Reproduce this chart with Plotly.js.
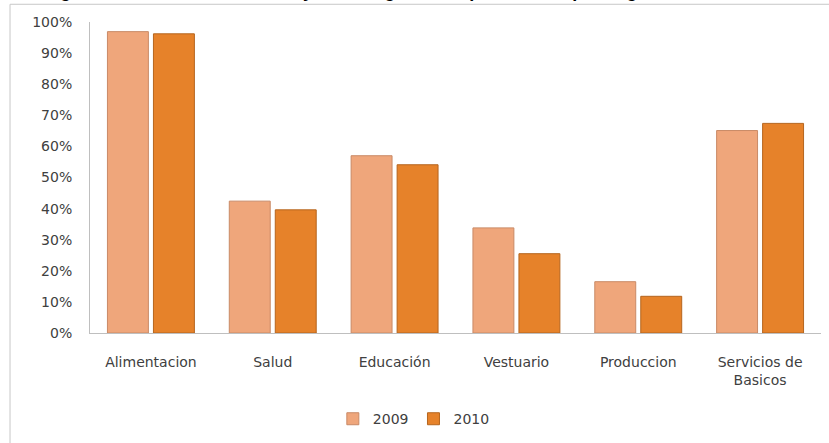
<!DOCTYPE html>
<html>
<head>
<meta charset="utf-8">
<script src="https://cdn.plot.ly/plotly-3.0.1.min.js"></script>
<style>html,body{margin:0;padding:0;background:#fff;}#chart{width:829px;height:443px;}</style>
</head>
<body>
<div id="chart"></div>
<script>
const categories = ["Alimentacion", "Salud", "Educación", "Vestuario", "Produccion", "Servicios de<br>Basicos"];
const values2009 = [96.9, 42.4, 57.0, 33.8, 16.5, 65.1];
const values2010 = [96.2, 39.6, 54.1, 25.5, 11.8, 67.4];
const seriesNames = ["2009", "2010"];
const yTicks = [0, 10, 20, 30, 40, 50, 60, 70, 80, 90, 100];
const yTickLabels = ["0%", "10%", "20%", "30%", "40%", "50%", "60%", "70%", "80%", "90%", "100%"];
const titleText = "Categorías de economía familiar y las categorías de prioridades por el gasto";

const font = "DejaVu Sans, Verdana, sans-serif";
const titleFont = "Liberation Sans, Arial, sans-serif";
const traces = [
  {type: "bar", name: seriesNames[0], x: categories, y: values2009,
   marker: {color: "#EFA67B", line: {color: "#C98A66", width: 1}}},
  {type: "bar", name: seriesNames[1], x: categories, y: values2010,
   marker: {color: "#E6822A", line: {color: "#B5651E", width: 1}}}
];
const layout = {
  width: 829, height: 443,
  margin: {l: 90, r: 8, t: 22, b: 107},
  paper_bgcolor: "#fff", plot_bgcolor: "#fff",
  font: {family: font, size: 14, color: "#404040"},
  barmode: "group", bargap: 0.245, bargroupgap: 0.11,
  showlegend: true,
  legend: {orientation: "h", x: 0.443, xanchor: "center", y: -0.277, yanchor: "middle",
           font: {size: 14, color: "#404040"}, itemwidth: 30, tracegroupgap: 0},
  xaxis: {showline: true, linecolor: "#BFBFBF", linewidth: 1, ticks: "", showgrid: false,
          zeroline: false, ticklabelstandoff: 16, tickfont: {size: 14, color: "#404040"}},
  yaxis: {range: [0, 100], tickmode: "array", tickvals: yTicks, ticktext: yTickLabels,
          showline: true, linecolor: "#BFBFBF",
          linewidth: 1, ticks: "", showgrid: false, zeroline: false, ticklabelstandoff: 14,
          tickfont: {size: 14, color: "#404040"}},
  shapes: [{type: "rect", xref: "paper", yref: "paper", x0: -0.1094, x1: 1.2, y0: -0.6, y1: 1.057,
            line: {color: "#C8C8C8", width: 1}, fillcolor: "rgba(0,0,0,0)", layer: "below"}],
  annotations: [{text: "<b>" + titleText + "</b>", xref: "paper", yref: "paper",
                 x: -0.097, xanchor: "left", y: 1.099, yanchor: "middle", showarrow: false,
                 font: {family: titleFont, size: 18, color: "#000"}}]
};
Plotly.newPlot("chart", traces, layout, {displayModeBar: false, staticPlot: true});
</script>
</body>
</html>
